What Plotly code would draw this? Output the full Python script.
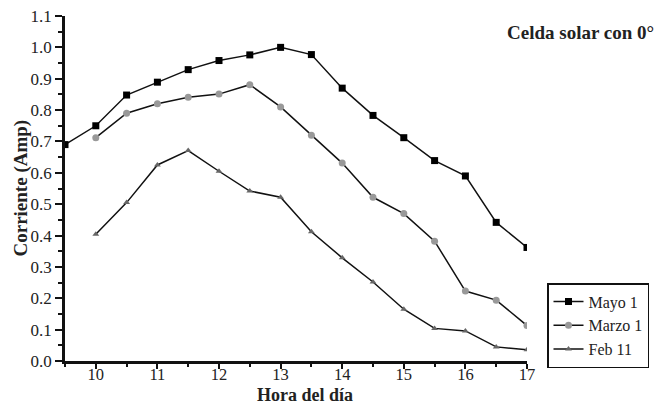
import plotly.graph_objects as go

hours_mayo = [9.5, 10, 10.5, 11, 11.5, 12, 12.5, 13, 13.5, 14, 14.5, 15, 15.5, 16, 16.5, 17]
mayo = [0.69, 0.75, 0.848, 0.889, 0.929, 0.958, 0.976, 1.0, 0.977, 0.870, 0.783, 0.712, 0.639, 0.59, 0.442, 0.362]
hours = [10, 10.5, 11, 11.5, 12, 12.5, 13, 13.5, 14, 14.5, 15, 15.5, 16, 16.5, 17]
marzo = [0.712, 0.790, 0.820, 0.841, 0.851, 0.881, 0.810, 0.720, 0.631, 0.522, 0.470, 0.382, 0.223, 0.194, 0.113]
feb = [0.404, 0.505, 0.625, 0.671, 0.605, 0.542, 0.522, 0.412, 0.329, 0.252, 0.165, 0.104, 0.096, 0.045, 0.036]

x_ticks = [10, 11, 12, 13, 14, 15, 16, 17]
y_ticks = [0.0, 0.1, 0.2, 0.3, 0.4, 0.5, 0.6, 0.7, 0.8, 0.9, 1.0, 1.1]

font = "Liberation Serif"
txt = "#222"

fig = go.Figure()
fig.add_trace(go.Scatter(x=hours_mayo, y=mayo, name="Mayo 1", mode="lines+markers",
                         line=dict(color="#111", width=1.5),
                         marker=dict(symbol="square", size=7, color="#000")))
fig.add_trace(go.Scatter(x=hours, y=marzo, name="Marzo 1", mode="lines+markers",
                         line=dict(color="#111", width=1.5),
                         marker=dict(symbol="circle", size=7, color="#999999")))
fig.add_trace(go.Scatter(x=hours, y=feb, name="Feb 11", mode="lines+markers",
                         line=dict(color="#111", width=1.5),
                         marker=dict(symbol="triangle-up", size=6, color="#666666")))

fig.update_layout(
    width=665, height=406,
    margin=dict(l=65, r=138, t=16, b=45, autoexpand=False),
    plot_bgcolor="white", paper_bgcolor="white",
    font=dict(family=font, size=16, color=txt),
    showlegend=True,
    legend=dict(xref="container", yref="container", x=547/665, xanchor="left",
                y=1 - 283/406, yanchor="top",
                bordercolor="#111", borderwidth=1.5, bgcolor="white",
                font=dict(family=font, size=16, color=txt),
                itemwidth=30, tracegroupgap=0),
    xaxis=dict(range=[9.5, 17], tickvals=x_ticks, ticktext=[str(v) for v in x_ticks],
               showgrid=False, zeroline=False, showline=True, linecolor="#111", linewidth=2.5,
               ticks="outside", ticklen=5, tickwidth=2, tickcolor="#111",
               minor=dict(dtick=0.5, ticks="outside", ticklen=3, tickwidth=2, tickcolor="#111"),
               tickfont=dict(family=font, size=16.5, color=txt), automargin=False,
               ticklabelstandoff=-9),
    yaxis=dict(range=[0, 1.1], tickvals=y_ticks, ticktext=[f"{v:.1f}" for v in y_ticks],
               showgrid=False, zeroline=False, showline=True, linecolor="#111", linewidth=2.5,
               ticks="outside", ticklen=7, tickwidth=2, tickcolor="#111",
               minor=dict(dtick=0.05, ticks="outside", ticklen=4, tickwidth=2, tickcolor="#111"),
               tickfont=dict(family=font, size=17, color=txt), automargin=False),
    annotations=[
        dict(text="<b>Celda solar con 0°</b>", xref="paper", yref="paper",
             x=(656 - 65) / 462, y=(361 - 33) / 345, xanchor="right", yanchor="middle",
             showarrow=False, font=dict(family=font, size=19, color=txt)),
        dict(text="<b>Hora del día</b>", xref="paper", yref="paper",
             x=0.5, y=0, xshift=9, yshift=-34, xanchor="center", yanchor="middle",
             showarrow=False, font=dict(family=font, size=18, color=txt)),
        dict(text="<b>Corriente (Amp)</b>", xref="paper", yref="paper",
             x=0, y=0.5, xshift=-45, xanchor="center", yanchor="middle", textangle=-90,
             showarrow=False, font=dict(family=font, size=19, color=txt)),
    ],
)

fig.write_html("out.html")
